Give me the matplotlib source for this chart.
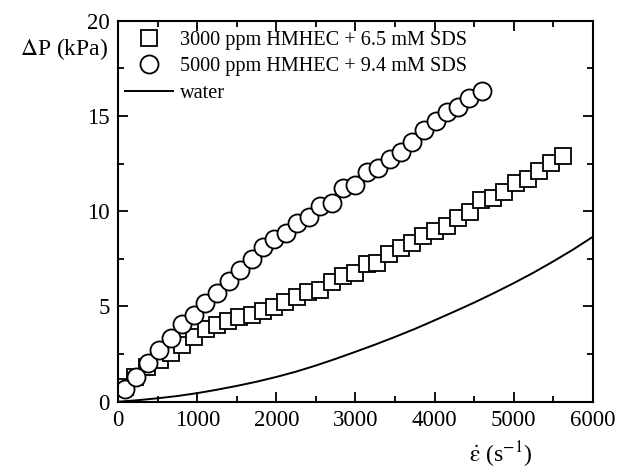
import numpy as np
import matplotlib
matplotlib.use("Agg")
from matplotlib import pyplot as plt
from matplotlib.ticker import MultipleLocator

# 3000 ppm HMHEC + 6.5 mM SDS (squares)
rate_3000 = [84, 211, 358, 527, 666, 809, 961, 1109, 1244, 1391, 1530, 1686, 1825,
             1969, 2108, 2255, 2403, 2551, 2698, 2846, 2993, 3141, 3276, 3428, 3571,
             3718, 3858, 4005, 4153, 4300, 4448, 4587, 4743, 4882, 5030, 5177, 5325,
             5472, 5620]
dp_3000 = [0.75, 1.31, 1.84, 2.19, 2.54, 2.97, 3.38, 3.80, 4.02, 4.25, 4.43, 4.55, 4.78,
           4.99, 5.25, 5.48, 5.77, 5.86, 6.30, 6.61, 6.77, 7.23, 7.30, 7.75, 8.05,
           8.35, 8.70, 8.98, 9.22, 9.62, 9.97, 10.59, 10.67, 11.02, 11.50, 11.67, 12.13,
           12.55, 12.90]

# 5000 ppm HMHEC + 9.4 mM SDS (circles)
rate_5000 = [84, 224, 371, 519, 662, 809, 957, 1100, 1252, 1395, 1539, 1686, 1834,
             1969, 2121, 2264, 2411, 2551, 2698, 2846, 2993, 3141, 3284, 3436, 3575,
             3718, 3862, 4022, 4158, 4300, 4440, 4596]
dp_5000 = [0.65, 1.31, 2.01, 2.71, 3.36, 4.08, 4.55, 5.20, 5.69, 6.35, 6.91, 7.47, 8.14,
           8.52, 8.84, 9.36, 9.71, 10.27, 10.41, 11.20, 11.37, 12.07, 12.25, 12.72, 13.12,
           13.65, 14.26, 14.75, 15.22, 15.45, 15.96, 16.30]

# water
rate_water = [0, 250, 500, 750, 1000, 1250, 1500, 1750, 2000, 2250, 2500, 2750, 3000,
              3250, 3500, 3750, 4000, 4250, 4500, 4750, 5000, 5250, 5500, 5750, 6000]
dp_water = [0, 0.08, 0.18, 0.30, 0.45, 0.63, 0.83, 1.05, 1.30, 1.58, 1.90, 2.25, 2.62,
            3.00, 3.40, 3.82, 4.27, 4.73, 5.20, 5.70, 6.22, 6.77, 7.36, 7.98, 8.65]

plt.rcParams['font.family'] = ['Liberation Serif', 'DejaVu Serif']
plt.rcParams['mathtext.fontset'] = 'stix'

fig = plt.figure(figsize=(6.18, 4.69), dpi=100)
ax = fig.add_axes([0.1914, 0.1435, 0.7676, 0.8124])

ax.plot(rate_3000, dp_3000, linestyle="None", marker="s", markersize=12,
        markerfacecolor="white", markeredgecolor="black", markeredgewidth=1.3,
        label="3000 ppm HMHEC + 6.5 mM SDS")
ax.plot(rate_5000, dp_5000, linestyle="None", marker="o", markersize=13,
        markerfacecolor="white", markeredgecolor="black", markeredgewidth=1.3,
        label="5000 ppm HMHEC + 9.4 mM SDS")
ax.plot(rate_water, dp_water, color="black", linewidth=1.4, label="water")

ax.set_xlim(0, 6000)
ax.set_ylim(0, 20)
ax.xaxis.set_major_locator(MultipleLocator(1000))
ax.xaxis.set_minor_locator(MultipleLocator(500))
ax.yaxis.set_major_locator(MultipleLocator(5))
ax.yaxis.set_minor_locator(MultipleLocator(2.5))
ax.tick_params(which="both", direction="in", top=True, right=True, width=1.3,
               labelsize=16.5, pad=6)
ax.tick_params(which="major", length=7)
ax.tick_params(which="minor", length=4)
for s in ax.spines.values():
    s.set_linewidth(1.5)

ax.legend(loc="upper left", frameon=False, fontsize=14.6, handlelength=2.4,
          handletextpad=0.3, labelspacing=0.35, borderaxespad=0.2,
          bbox_to_anchor=(-0.012, 1.005))

fig.text(0.032, 0.895, r"$\Delta$P (kPa)", fontsize=17, va="center", ha="left")
fig.text(0.81, 0.03, r"$\dot{\mathrm{\epsilon}}$ (s$^{-1}$)", fontsize=17,
         va="center", ha="center")

fig.savefig("out.png", dpi=100)
